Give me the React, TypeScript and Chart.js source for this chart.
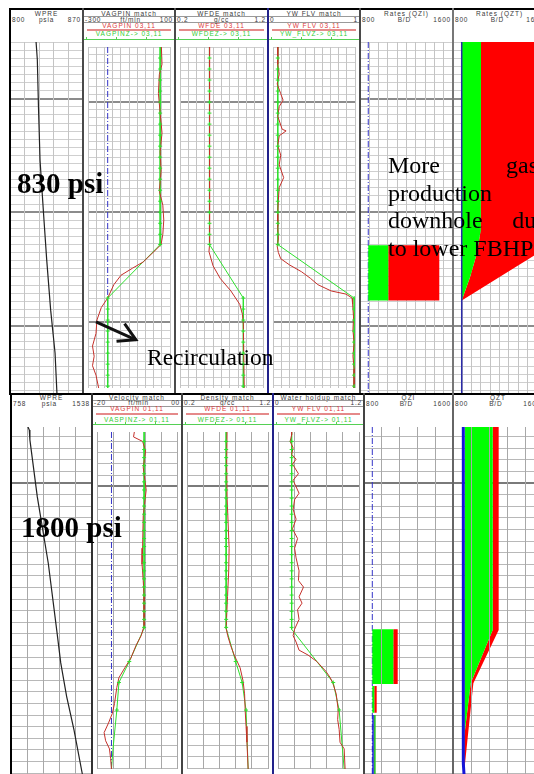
import React, { useEffect, useRef } from 'react';
import { Chart, registerables } from 'chart.js';
Chart.register(...registerables);

// ================= DATA =================
// ---- Top panel (830 psi), depth in grid units (0 .. 43.33) ----
const topDepthRange = [0, 43.33];
const topFullDepth = [0, 43.33];
const topMajorDepths = [7, 21, 35];

const wpreTopDepth = [0, 2.2, 8, 14.6, 22, 26.9, 33.1, 38.4, 43.33];
const wpreTopPsia = [825, 826.2, 827.3, 828.8, 832.6, 835.2, 839, 843.2, 845];

const topStations = [1.4, 2.8, 4.2, 5.6, 7.0, 8.4, 9.8, 11.2, 12.6, 14.0, 15.4, 16.8, 18.2, 19.6, 21.0, 22.4, 23.8, 25.1, 31.9, 33.3, 34.7, 36.1, 37.5, 38.9, 40.3, 41.7, 43.1];

const topModelDepth = [0, 25.1, 31.9, 43.33];
const vagTopModel = [52, 52, -204, -204];
const vagTopStationVal = [52, 52, 52, 52, 52, 52, 52, 52, 52, 52, 52, 52, 52, 52, 52, 52, 52, 52, -204, -204, -204, -204, -204, -204, -204, -204, -204];
const vagTopMeasDepth = [0, 2.2, 3.5, 5.9, 8.4, 10.9, 13.3, 15.8, 18.3, 20.1, 22, 23.8, 25.1, 26, 27.3, 28.1, 29, 30.2, 31.9, 33.1, 34.7, 36.4, 38, 39.3, 40.5, 41.7, 43.33];
const vagTopMeas = [58, 61, 48, 43.5, 52, 61, 52, 56.5, 48, 65, 69.6, 65, 56.5, 21.7, -30, -82.6, -139, -174, -204, -235, -256.5, -261, -278, -270, -278, -261, -248];
const vagTopRefLine = [-204, -204];
const arrowShaftVal = [-261, -66.5];
const arrowShaftDepth = [34.94, 37.2];
const arrowHeadVal = [-121.7, -66.5, -160.9];
const arrowHeadDepth = [35.15, 37.2, 37.4];

const wfdeTopModel = [0.555, 0.555, 0.963, 0.963];
const wfdeTopStationVal = [0.555, 0.555, 0.555, 0.555, 0.555, 0.555, 0.555, 0.555, 0.555, 0.555, 0.555, 0.555, 0.555, 0.555, 0.555, 0.555, 0.555, 0.555, 0.963, 0.963, 0.963, 0.963, 0.963, 0.963, 0.963, 0.963, 0.963];
const wfdeTopMeasDepth = [0, 3, 5, 8, 12, 16, 20, 25.1, 26, 27.8, 29.4, 31, 32.7, 34, 35.2, 43.33];
const wfdeTopMeas = [0.555, 0.56, 0.552, 0.558, 0.555, 0.56, 0.555, 0.555, 0.549, 0.598, 0.684, 0.813, 0.92, 0.953, 0.963, 0.974];

const ywTopModel = [0.058, 0.058, 0.99, 0.99];
const ywTopStationVal = [0.058, 0.058, 0.058, 0.058, 0.058, 0.058, 0.058, 0.058, 0.058, 0.058, 0.058, 0.058, 0.058, 0.058, 0.058, 0.058, 0.058, 0.058, 0.99, 0.99, 0.99, 0.99, 0.99, 0.99, 0.99, 0.99, 0.99];
const ywTopMeasDepth = [0, 2.2, 3.46, 4.69, 5.93, 6.75, 7.57, 8.81, 10.45, 10.66, 11.28, 12.5, 13.74, 14.98, 16.6, 17.86, 19.5, 21.2, 22.8, 24.4, 25.3, 26.1, 26.9, 27.7, 28.56, 29.4, 30.2, 31.0, 31.4, 31.9, 32.7, 34.3, 36.0, 37.6, 39.3, 40.9, 43.33];
const ywTopMeas = [0.06, 0.058, 0.076, 0.051, 0.094, 0.123, 0.076, 0.058, 0.112, 0.16, 0.076, 0.058, 0.094, 0.076, 0.13, 0.076, 0.065, 0.058, 0.058, 0.065, 0.051, 0.065, 0.094, 0.203, 0.348, 0.457, 0.547, 0.71, 0.891, 0.964, 0.971, 0.982, 0.975, 0.989, 0.975, 0.989, 0.989];

const qziTopRefLine = [871, 871];
const qziTopBlockDepth = [25.1, 25.1, 31.9, 31.9];
const qziTopGreen = [871, 1043, 1043, 871];
const qziTopRed = [1043, 1482, 1482, 1043];

const qztTopBlueLine = [875, 875];
const qztTopGreenVal = [877, 1041, 1039, 1005, 947, 875];
const qztTopGreenDepth = [0, 0, 23.2, 26.1, 29, 31.9];
const qztTopRedVal = [1041, 1540, 1540, 875, 947, 1005, 1039];
const qztTopRedDepth = [0, 0, 26.0, 31.9, 29, 26.1, 23.2];

// ---- Bottom panel (1800 psi), depth in grid units (0.164 .. 30.08) ----
const botDepthRange = [0.164, 30.08];
const botFullDepth = [0.164, 30.08];
const botMajorDepths = [5];

const wpreBotDepth = [0.164, 0.42, 1.28, 6.17, 11.91, 17.66, 20.5, 23.4, 26.3, 30.08];
const wpreBotPsia = [921.7, 934, 940, 1011, 1117, 1198, 1237, 1294, 1365, 1445];

const botStations = [1.0, 1.72, 2.44, 3.15, 3.87, 4.59, 5.31, 6.03, 6.74, 7.46, 8.18, 8.9, 9.62, 10.33, 11.05, 11.77, 12.49, 13.2, 13.92, 14.64, 15.36, 16.08, 16.8, 17.51, 20.54, 22.4, 24.85];

const velBotModelDepth = [0.164, 17.58, 20.54, 22.4, 24.85, 28.3, 30.08];
const velBotModel = [-23.3, -23.3, -79, -117.7, -125.7, -140, -145.7];
const velBotStationVal = [-23.3, -23.3, -23.3, -23.3, -23.3, -23.3, -23.3, -23.3, -23.3, -23.3, -23.3, -23.3, -23.3, -23.3, -23.3, -23.3, -23.3, -23.3, -23.3, -23.3, -23.3, -23.3, -23.3, -23.3, -79, -117.7, -125.7];
const velBotMeasDepth = [0.164, 0.6, 1.0, 1.86, 3.3, 5.31, 7.6, 10.48, 11.91, 13.35, 14.79, 17.37, 18.24, 19.1, 20.25, 21.1, 21.97, 22.83, 24.27, 25.13, 25.99, 26.85, 27.57, 28.29, 29.15, 30.08];
const velBotMeas = [-60, -63, -29, -17.7, -26.7, -15.6, -26.7, -29, -31, -26.7, -23.3, -23.3, -34.3, -53.3, -73.3, -95.7, -117.7, -125.7, -134.3, -142.3, -156.7, -173.3, -167.7, -153.3, -149, -145.7];
const velBotRefLine = [-145.7, -145.7];

const denBotModelDepth = [0.164, 17.58, 20.54, 22.4, 24.85, 30.08];
const denBotModel = [0.6835, 0.6835, 0.801, 0.881, 0.929, 0.955];
const denBotStationVal = [0.6835, 0.6835, 0.6835, 0.6835, 0.6835, 0.6835, 0.6835, 0.6835, 0.6835, 0.6835, 0.6835, 0.6835, 0.6835, 0.6835, 0.6835, 0.6835, 0.6835, 0.6835, 0.6835, 0.6835, 0.6835, 0.6835, 0.6835, 0.6835, 0.801, 0.881, 0.929];
const denBotMeasDepth = [0.164, 3, 6, 10.48, 12.5, 14.79, 17.58, 18.24, 19.1, 19.96, 21.1, 22.26, 23.41, 24.84, 26.3, 27.7, 30.08];
const denBotMeas = [0.6945, 0.69, 0.695, 0.72, 0.715, 0.70, 0.6835, 0.702, 0.738, 0.782, 0.856, 0.892, 0.911, 0.918, 0.929, 0.94, 0.955];

const watBotModelDepth = [0.164, 17.67, 22.4, 24.84, 30.08];
const watBotModel = [0.202, 0.202, 0.818, 0.906, 0.98];
const watBotStationDepth = [1.0, 1.72, 2.44, 3.15, 3.87, 4.59, 5.31, 6.03, 6.74, 7.46, 8.18, 8.9, 9.62, 10.33, 11.05, 11.77, 12.49, 13.2, 13.92, 14.64, 15.36, 16.08, 16.8, 17.51, 22.4, 24.84];
const watBotStationVal = [0.202, 0.202, 0.202, 0.202, 0.202, 0.202, 0.202, 0.202, 0.202, 0.202, 0.202, 0.202, 0.202, 0.202, 0.202, 0.202, 0.202, 0.202, 0.202, 0.202, 0.202, 0.202, 0.202, 0.202, 0.818, 0.906];
const watBotMeasDepth = [0.164, 0.42, 1.0, 1.57, 2.15, 2.58, 3.01, 3.87, 4.45, 5.6, 6.17, 7.03, 7.9, 8.76, 9.62, 10.48, 11.34, 12.49, 13.35, 13.93, 14.79, 15.36, 15.94, 16.8, 17.67, 18.24, 18.81, 19.53, 19.96, 20.54, 21.4, 21.97, 22.55, 23.41, 24.84, 25.7, 26.56, 27.71, 28.29, 30.08];
const watBotMeas = [0.202, 0.202, 0.18, 0.224, 0.202, 0.268, 0.215, 0.303, 0.224, 0.312, 0.246, 0.224, 0.268, 0.215, 0.29, 0.246, 0.268, 0.312, 0.303, 0.378, 0.312, 0.356, 0.29, 0.312, 0.246, 0.224, 0.268, 0.312, 0.444, 0.576, 0.708, 0.774, 0.818, 0.862, 0.892, 0.884, 0.906, 0.919, 0.98, 0.994];

const qziBotRefLine = [874.6, 874.6];
const qziBotBlock1Depth = [17.6, 17.6, 22.32, 22.32];
const qziBotBlock1Green = [874.6, 1063.4, 1063.4, 874.6];
const qziBotBlock1Red = [1063.4, 1103, 1103, 1063.4];
const qziBotBlock2Depth = [22.49, 22.49, 24.79, 24.79];
const qziBotBlock2Green = [874.6, 892.6, 892.6, 874.6];
const qziBotBlock2Red = [892.6, 914, 914, 892.6];
const qziBotBlock3Depth = [24.99, 24.99, 30.08, 30.08];
const qziBotBlock3Blue = [874.6, 887.5, 887.5, 874.6];
const qziBotBlock3Green = [887.5, 905, 905, 887.5];

const qztBotBlueVal = [891.6, 891.6, 897.8];
const qztBotBlueDepth = [0.164, 29.15, 30.08];
const qztBotGreenVal = [907, 1153, 1153, 957, 900, 898, 905];
const qztBotGreenDepth = [0.164, 0.164, 17.67, 22.26, 26.85, 30.08, 26.85];
const qztBotRedVal = [1153, 1206, 1206, 981, 907, 898, 900, 957, 1153];
const qztBotRedDepth = [0.164, 0.164, 17.67, 22.26, 29.15, 30.08, 26.85, 22.26, 17.67];

// ---- header labels ----
const topNames = ['WPRE', 'VAGPIN match', 'WFDE match', 'YW FLV match', 'Rates (QZI)', 'Rates (QZT)'];
const topScaleL = ['800', '-300', '0.2', '0', '800', '800'];
const topScaleC = ['psia', 'ft/min', 'g/cc', '', 'B/D', 'B/D'];
const topScaleR = ['870', '100', '1.2', '1', '1600', '1600'];
const topRedNames = ['', 'VAGPIN 03,11', 'WFDE 03,11', 'YW FLV 03,11', '', ''];
const topGreenNames = ['', 'VAGPINZ-> 03,11', 'WFDEZ-> 03,11', 'YW_FLVZ-> 03,11', '', ''];

const botNames = ['WPRE', 'Velocity match', 'Density match', 'Water holdup match', 'QZI', 'QZT'];
const botScaleL = ['758', '-20', '0.2', '0', '800', '800'];
const botScaleC = ['psia', 'ft/min', 'g/cc', '', 'B/D', 'B/D'];
const botScaleR = ['1538', '00', '1.2', '1.2', '1600', '1600'];
const botRedNames = ['', 'VAGPIN 01,11', 'WFDE 01,11', 'YW FLV 01,11', '', ''];
const botGreenNames = ['', 'VASPINZ-> 01,11', 'WFDEZ-> 01,11', 'YW_FLVZ-> 01,11', '', ''];

// ================= STYLE / LAYOUT =================
const COL = {
  red: '#c4302a',
  green: '#2ee02e',
  fillGreen: '#00ff00',
  fillRed: '#ff0000',
  blue: '#3535c8',
  qBlue: '#1515d8',
  black: '#111111',
};

type XY = { x: number; y: number };
const pts = (xs: number[], ys: number[]): XY[] => xs.map((x, i) => ({ x, y: ys[i] }));
const lineDS = (xs: number[], ys: number[], color: string, width = 1, dash: number[] = []) => ({
  data: pts(xs, ys), showLine: true, borderColor: color, borderWidth: width, borderDash: dash,
  pointRadius: 0, fill: false, tension: 0,
});
const polyDS = (xs: number[], ys: number[], color: string) => ({
  data: pts(xs, ys), showLine: true, borderWidth: 0, borderColor: color, backgroundColor: color,
  fill: 'shape', pointRadius: 0, tension: 0,
});
const markDS = (xs: number[], ys: number[], color: string) => ({
  data: pts(xs, ys), showLine: false, pointRadius: 2, pointStyle: 'cross',
  borderColor: color, backgroundColor: color, borderWidth: 1,
});
const DASHDOT = [6, 2, 1, 2];

interface TrackSpec {
  left: number; top: number; width: number; height: number;
  x: number[]; div: number; y: number[]; majors: number[];
  hColor: string; vColor: string; majorColor: string; gridOnTop?: boolean;
  datasets: () => any[];
}

const TOP_PLOT = { top: 42, height: 351 };
const BOT_PLOT = { top: 427, height: 347 };
const topTracks = [[10, 73], [83, 92], [175, 93], [268, 92], [360, 93], [453, 93]];
const botTracks = [[11, 81], [92, 90], [182, 91], [273, 91], [364, 89], [453, 90]];

const topGrid = { hColor: '#cfcfcf', vColor: '#c4c4c4', majorColor: '#8c8c8c' };
const botGrid = { hColor: '#b8b8b8', vColor: '#a8a8a8', majorColor: '#7a7a7a' };

const topSpecs: TrackSpec[] = [
  { ...topGrid, left: topTracks[0][0], width: topTracks[0][1], ...TOP_PLOT, x: [800, 870], div: 5, y: topDepthRange, majors: topMajorDepths,
    datasets: () => [lineDS(wpreTopPsia, wpreTopDepth, '#222', 1.2)] },
  { ...topGrid, left: topTracks[1][0], width: topTracks[1][1], ...TOP_PLOT, x: [-300, 100], div: 10, y: topDepthRange, majors: topMajorDepths,
    datasets: () => [
      lineDS(arrowShaftVal, arrowShaftDepth, COL.black, 3),
      lineDS(arrowHeadVal, arrowHeadDepth, COL.black, 3),
      markDS(vagTopStationVal, topStations, COL.green),
      lineDS(vagTopMeas, vagTopMeasDepth, COL.red, 1),
      lineDS(vagTopModel, topModelDepth, COL.green, 1),
      lineDS(vagTopRefLine, topFullDepth, COL.blue, 1, DASHDOT),
    ] },
  { ...topGrid, left: topTracks[2][0], width: topTracks[2][1], ...TOP_PLOT, x: [0.2, 1.2], div: 10, y: topDepthRange, majors: topMajorDepths,
    datasets: () => [
      markDS(wfdeTopStationVal, topStations, COL.green),
      lineDS(wfdeTopMeas, wfdeTopMeasDepth, COL.red, 1),
      lineDS(wfdeTopModel, topModelDepth, COL.green, 1),
    ] },
  { ...topGrid, left: topTracks[3][0], width: topTracks[3][1], ...TOP_PLOT, x: [0, 1], div: 10, y: topDepthRange, majors: topMajorDepths,
    datasets: () => [
      markDS(ywTopStationVal, topStations, COL.green),
      lineDS(ywTopMeas, ywTopMeasDepth, COL.red, 1),
      lineDS(ywTopModel, topModelDepth, COL.green, 1),
    ] },
  { ...topGrid, left: topTracks[4][0], width: topTracks[4][1], ...TOP_PLOT, x: [800, 1600], div: 10, y: topDepthRange, majors: topMajorDepths,
    datasets: () => [
      polyDS(qziTopGreen, qziTopBlockDepth, COL.fillGreen),
      polyDS(qziTopRed, qziTopBlockDepth, COL.fillRed),
      lineDS(qziTopRefLine, topFullDepth, COL.blue, 1, DASHDOT),
    ] },
  { ...topGrid, left: topTracks[5][0], width: topTracks[5][1], ...TOP_PLOT, x: [800, 1600], div: 10, y: topDepthRange, majors: topMajorDepths,
    datasets: () => [
      lineDS(qztTopBlueLine, topFullDepth, '#2a2aa8', 1.5),
      polyDS(qztTopGreenVal, qztTopGreenDepth, COL.fillGreen),
      polyDS(qztTopRedVal, qztTopRedDepth, COL.fillRed),
    ] },
];

const botSpecs: TrackSpec[] = [
  { ...botGrid, left: botTracks[0][0], width: botTracks[0][1], ...BOT_PLOT, x: [758, 1538], div: 5, y: botDepthRange, majors: botMajorDepths,
    datasets: () => [lineDS(wpreBotPsia, wpreBotDepth, '#222', 1.2)] },
  { ...botGrid, left: botTracks[1][0], width: botTracks[1][1], ...BOT_PLOT, x: [-200, 100], div: 5, y: botDepthRange, majors: botMajorDepths,
    datasets: () => [
      markDS(velBotStationVal, botStations, COL.green),
      lineDS(velBotMeas, velBotMeasDepth, COL.red, 1),
      lineDS(velBotModel, velBotModelDepth, COL.green, 1),
      lineDS(velBotRefLine, botFullDepth, COL.blue, 1, DASHDOT),
    ] },
  { ...botGrid, left: botTracks[2][0], width: botTracks[2][1], ...BOT_PLOT, x: [0.2, 1.2], div: 5, y: botDepthRange, majors: botMajorDepths,
    datasets: () => [
      markDS(denBotStationVal, botStations, COL.green),
      lineDS(denBotMeas, denBotMeasDepth, COL.red, 1),
      lineDS(denBotModel, denBotModelDepth, COL.green, 1),
    ] },
  { ...botGrid, left: botTracks[3][0], width: botTracks[3][1], ...BOT_PLOT, x: [0, 1.2], div: 5, y: botDepthRange, majors: botMajorDepths,
    datasets: () => [
      markDS(watBotStationVal, watBotStationDepth, COL.green),
      lineDS(watBotMeas, watBotMeasDepth, COL.red, 1),
      lineDS(watBotModel, watBotModelDepth, COL.green, 1),
    ] },
  { ...botGrid, left: botTracks[4][0], width: botTracks[4][1], ...BOT_PLOT, x: [800, 1600], div: 5, y: botDepthRange, majors: botMajorDepths, gridOnTop: true,
    datasets: () => [
      polyDS(qziBotBlock1Green, qziBotBlock1Depth, COL.fillGreen),
      polyDS(qziBotBlock1Red, qziBotBlock1Depth, COL.fillRed),
      polyDS(qziBotBlock2Green, qziBotBlock2Depth, COL.fillGreen),
      polyDS(qziBotBlock2Red, qziBotBlock2Depth, COL.fillRed),
      polyDS(qziBotBlock3Blue, qziBotBlock3Depth, COL.qBlue),
      polyDS(qziBotBlock3Green, qziBotBlock3Depth, '#30c030'),
      lineDS(qziBotRefLine, botFullDepth, COL.blue, 1, DASHDOT),
    ] },
  { ...botGrid, left: botTracks[5][0], width: botTracks[5][1], ...BOT_PLOT, x: [800, 1600], div: 5, y: botDepthRange, majors: botMajorDepths, gridOnTop: true,
    datasets: () => [
      lineDS(qztBotBlueVal, qztBotBlueDepth, COL.qBlue, 3),
      polyDS(qztBotGreenVal, qztBotGreenDepth, COL.fillGreen),
      polyDS(qztBotRedVal, qztBotRedDepth, COL.fillRed),
    ] },
];

// ================= COMPONENTS =================
function Track({ spec }: { spec: TrackSpec }) {
  const ref = useRef<HTMLCanvasElement | null>(null);
  useEffect(() => {
    const s = spec;
    if (!ref.current) return;
    const chart = new Chart(ref.current, {
      type: 'scatter',
      data: { datasets: s.datasets() },
      options: {
        animation: false,
        responsive: false,
        maintainAspectRatio: false,
        devicePixelRatio: 1,
        events: [],
        layout: { padding: 0 },
        plugins: { legend: { display: false }, tooltip: { enabled: false }, title: { display: false } },
        scales: {
          x: {
            type: 'linear', min: s.x[0], max: s.x[1],
            ticks: { display: false }, border: { display: false },
            grid: { drawTicks: false, color: s.vColor, lineWidth: 1, z: s.gridOnTop ? 1 : 0 },
            afterBuildTicks: (axis: any) => {
              const t: any[] = [];
              for (let k = 0; k <= s.div; k++) t.push({ value: s.x[0] + (k * (s.x[1] - s.x[0])) / s.div });
              axis.ticks = t;
            },
          },
          y: {
            type: 'linear', reverse: true, min: s.y[0], max: s.y[1],
            ticks: { display: false }, border: { display: false },
            grid: {
              drawTicks: false,
              color: (c: any) => (s.majors.includes(c.tick && c.tick.value) ? s.majorColor : s.hColor),
              lineWidth: (c: any) => (s.majors.includes(c.tick && c.tick.value) ? 2 : 1),
            },
            afterBuildTicks: (axis: any) => {
              const t: any[] = [];
              for (let v = Math.ceil(s.y[0]); v <= s.y[1]; v++) t.push({ value: v });
              axis.ticks = t;
            },
          },
        },
      } as any,
    });
    return () => chart.destroy();
  }, [spec]);
  return (
    <canvas
      ref={ref}
      width={spec.width}
      height={spec.height}
      style={{ position: 'absolute', left: spec.left, top: spec.top, width: spec.width, height: spec.height }}
    />
  );
}

const HDR_FONT = "'Liberation Sans', Arial, sans-serif";
const SERIF = "'Liberation Serif', 'Times New Roman', serif";

function Txt({ x, y, w, color = '#3a3a3a', children }: any) {
  return (
    <div style={{ position: 'absolute', left: x, top: y - 4, width: w, height: 8, lineHeight: '8px', fontSize: 6.5,
      letterSpacing: 1, color, textAlign: 'center', whiteSpace: 'nowrap', overflow: 'hidden', fontFamily: HDR_FONT }}>
      {children}
    </div>
  );
}
function ScaleRow({ x, y, w, l, c, r }: any) {
  return (
    <div style={{ position: 'absolute', left: x + 2, top: y - 4, width: w - 4, height: 8, lineHeight: '8px', fontSize: 6.5,
      letterSpacing: 0.8, color: '#3a3a3a', display: 'flex', justifyContent: 'space-between', whiteSpace: 'nowrap', fontFamily: HDR_FONT }}>
      <span>{l}</span><span>{c}</span><span>{r}</span>
    </div>
  );
}
function Rule({ x, y, w, h = 1, color }: any) {
  return <div style={{ position: 'absolute', left: x, top: y, width: w, height: h, background: color }} />;
}

const TOP_ROWS = { name: 13.5, l1: 16, scale: 19.5, l2: 22, red: 25.5, redLine: 28.5, green: 34, greenLine: 38.5, wName: 14, wScale: 20 };
const BOT_ROWS = { name: 398, l1: 400, scale: 403, l2: 405.5, red: 409, redLine: 413, green: 419.5, greenLine: 423.5, wName: 398, wScale: 403.5 };

function Headers({ tracks, rows, names, sl, sc, sr, reds, greens }: any) {
  return (
    <>
      {tracks.map((t: number[], i: number) => {
        const [x, w] = t;
        const match = reds[i] !== '';
        if (!match) {
          return (
            <React.Fragment key={i}>
              <Txt x={x} y={rows.wName} w={w}>{names[i]}</Txt>
              <ScaleRow x={x} y={rows.wScale} w={w} l={sl[i]} c={sc[i]} r={sr[i]} />
            </React.Fragment>
          );
        }
        return (
          <React.Fragment key={i}>
            <Txt x={x} y={rows.name} w={w}>{names[i]}</Txt>
            <Rule x={x} y={rows.l1} w={w} color="#9a9a9a" />
            <ScaleRow x={x} y={rows.scale} w={w} l={sl[i]} c={sc[i]} r={sr[i]} />
            <Rule x={x} y={rows.l2} w={w} color="#9a9a9a" />
            <Txt x={x} y={rows.red} w={w} color="#e03a3a">{reds[i]}</Txt>
            <Rule x={x + 4} y={rows.redLine} w={w - 8} h={2} color="#e58a8a" />
            <Txt x={x} y={rows.green} w={w} color="#33cc33">{greens[i]}</Txt>
            <Rule x={x} y={rows.greenLine} w={w} color="#55d055" />
            {[3, 33, 63].map((o) => (
              <Rule key={o} x={x + o} y={rows.greenLine - 2} w={1} h={3} color="#55d055" />
            ))}
          </React.Fragment>
        );
      })}
    </>
  );
}

function VLine({ x, y0, y1, w = 2, color }: any) {
  return <div style={{ position: 'absolute', left: x, top: y0, width: w, height: y1 - y0, background: color }} />;
}

export default function App() {
  return (
    <div style={{ position: 'fixed', left: 0, top: 0, width: 534, height: 774, overflow: 'hidden', background: '#fff' }}>
      {topSpecs.map((s, i) => <Track key={'t' + i} spec={s} />)}
      {botSpecs.map((s, i) => <Track key={'b' + i} spec={s} />)}

      <Headers tracks={topTracks} rows={TOP_ROWS} names={topNames} sl={topScaleL} sc={topScaleC} sr={topScaleR} reds={topRedNames} greens={topGreenNames} />
      <Headers tracks={botTracks} rows={BOT_ROWS} names={botNames} sl={botScaleL} sc={botScaleC} sr={botScaleR} reds={botRedNames} greens={botGreenNames} />

      {/* frame: top panel */}
      <Rule x={10} y={8} w={524} h={2} color="#000" />
      <VLine x={9} y0={8} y1={394} color="#000" />
      <VLine x={82} y0={8} y1={393} color="#4a4a4a" />
      <VLine x={174} y0={8} y1={393} color="#4a4a4a" />
      <VLine x={267} y0={8} y1={393} color="#22228a" />
      <VLine x={359} y0={8} y1={393} color="#4a4a4a" />
      <VLine x={452} y0={8} y1={393} color="#777" />
      {/* frame: bottom panel */}
      <Rule x={9} y={393} w={525} h={2} color="#000" />
      <VLine x={10} y0={393} y1={774} color="#000" />
      <VLine x={91} y0={393} y1={774} color="#333" />
      <VLine x={181} y0={393} y1={774} color="#444" />
      <VLine x={272} y0={393} y1={774} color="#22228a" />
      <VLine x={363} y0={393} y1={774} color="#444" />
      <VLine x={452} y0={393} y1={774} color="#666" />

      {/* annotations */}
      <div style={{ position: 'absolute', left: 17, top: 169, fontFamily: SERIF, fontWeight: 'bold', fontSize: 29, lineHeight: '29px', color: '#000', whiteSpace: 'nowrap' }}>830 psi</div>
      <div style={{ position: 'absolute', left: 21, top: 513, fontFamily: SERIF, fontWeight: 'bold', fontSize: 29, lineHeight: '29px', color: '#000', whiteSpace: 'nowrap' }}>1800 psi</div>
      <div style={{ position: 'absolute', left: 147, top: 345, fontFamily: SERIF, fontSize: 23.5, lineHeight: '24px', color: '#000', whiteSpace: 'nowrap' }}>Recirculation</div>
      <div style={{ position: 'absolute', left: 388, top: 152.6, width: 150, fontFamily: SERIF, fontSize: 24, lineHeight: '24px', color: '#000', display: 'flex', justifyContent: 'space-between', whiteSpace: 'nowrap' }}>
        <span>More</span><span>gas</span>
      </div>
      <div style={{ position: 'absolute', left: 388, top: 180.6, fontFamily: SERIF, fontSize: 24, lineHeight: '24px', color: '#000', whiteSpace: 'nowrap' }}>production</div>
      <div style={{ position: 'absolute', left: 388, top: 207.6, width: 159, fontFamily: SERIF, fontSize: 24, lineHeight: '24px', color: '#000', display: 'flex', justifyContent: 'space-between', whiteSpace: 'nowrap' }}>
        <span>downhole</span><span>due</span>
      </div>
      <div style={{ position: 'absolute', left: 388, top: 235.6, fontFamily: SERIF, fontSize: 24, lineHeight: '24px', color: '#000', whiteSpace: 'nowrap' }}>to lower FBHP</div>
    </div>
  );
}
